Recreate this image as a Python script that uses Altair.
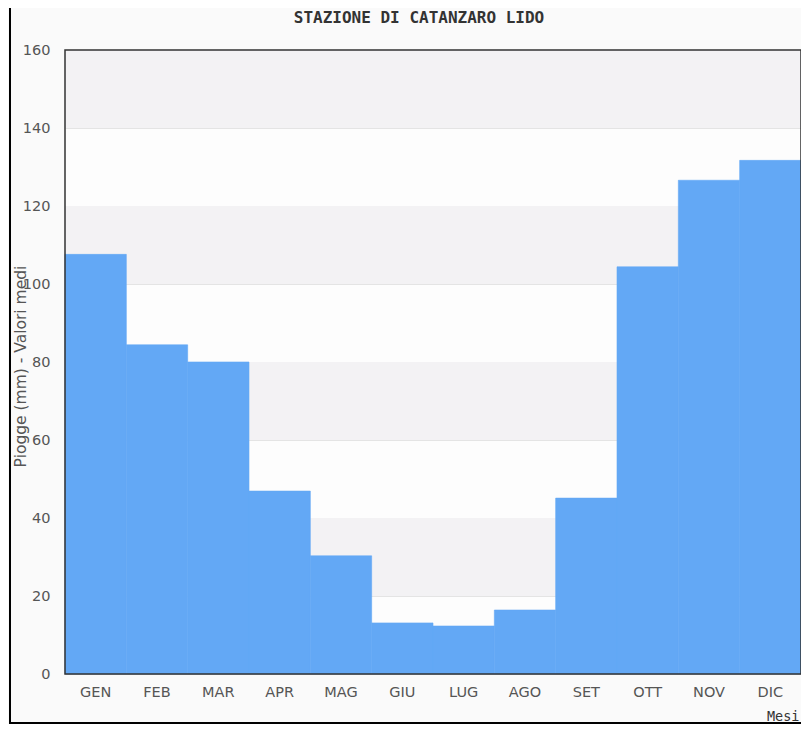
import altair as alt
import pandas as pd

months = ["GEN", "FEB", "MAR", "APR", "MAG", "GIU", "LUG", "AGO", "SET", "OTT", "NOV", "DIC"]
rain = [107.6, 84.4, 80.0, 46.9, 30.3, 13.1, 12.3, 16.4, 45.1, 104.4, 126.6, 131.7]
band_lo = [20, 60, 100, 140]
band_hi = [40, 80, 120, 160]
y_ticks = [0, 20, 40, 60, 80, 100, 120, 140, 160]
title_text = ["STAZIONE DI CATANZARO LIDO"]

W, H = 736, 624

df = pd.DataFrame({"mese": months, "pioggia": rain})
bands = pd.DataFrame({"lo": band_lo, "hi": band_hi})
one = pd.DataFrame({"t": title_text})

yscale = alt.Scale(domain=[0, 160], nice=False)

band_layer = alt.Chart(bands).mark_rect(color="#f3f2f4").encode(
    x=alt.value(0), x2=alt.value(W),
    y=alt.Y("lo:Q", scale=yscale),
    y2="hi:Q",
)

bars = alt.Chart(df).mark_bar(color="#63a8f5", stroke="#63a8f5", strokeWidth=0.6).encode(
    x=alt.X("mese:N", sort=months,
            scale=alt.Scale(paddingInner=0, paddingOuter=0),
            axis=alt.Axis(title="Mesi", labelAngle=0, labelPadding=11, ticks=False, domain=False,
                          labelFontSize=14.5, labelColor="#555", labelFont="DejaVu Sans",
                          titleFont="DejaVu Sans Mono", titleFontSize=13.5, titleFontWeight="normal",
                          titleColor="#333", titleX=734, titleY=46, titleAlign="right",
                          titleBaseline="alphabetic")),
    y=alt.Y("pioggia:Q", scale=yscale,
            axis=alt.Axis(title="Piogge (mm) - Valori medi", values=y_ticks, ticks=False, domain=False,
                          labelPadding=15, labelFontSize=14.5, labelColor="#555", labelFont="DejaVu Sans",
                          grid=True, gridColor="#e4e4e4", gridWidth=1,
                          titleFont="DejaVu Sans", titleFontSize=15.5, titleFontWeight="normal",
                          titleColor="#555", titleX=-40, titleY=316, titleAlign="center",
                          titleBaseline="alphabetic", titleAngle=270)),
)

border = alt.Chart(one).mark_rect(fill=None, stroke="#333", strokeWidth=1.5).encode(
    x=alt.value(0), x2=alt.value(W), y=alt.value(0), y2=alt.value(H)
)

frame_left = alt.Chart(one).mark_rule(color="black", strokeWidth=2).encode(
    x=alt.value(-55), y=alt.value(-50), y2=alt.value(674)
)
frame_bottom = alt.Chart(one).mark_rule(color="black", strokeWidth=2).encode(
    x=alt.value(-55), x2=alt.value(760), y=alt.value(673)
)

title = alt.Chart(one).mark_text(font="DejaVu Sans Mono", fontSize=16, fontWeight="bold",
                                 color="#333", align="center", baseline="alphabetic").encode(
    x=alt.value(354), y=alt.value(-27), text="t:N"
)

chart = alt.layer(band_layer, bars, border, frame_left, frame_bottom, title).properties(
    width=W, height=H,
    autosize=alt.AutoSizeParams(type="none"),
    padding={"left": 57, "top": 42, "right": 0, "bottom": 50},
    background="#fafafa",
).configure_view(stroke=None, fill="#fdfdfd")

chart.save("out.html", embed_options={"renderer": "svg", "actions": False})
